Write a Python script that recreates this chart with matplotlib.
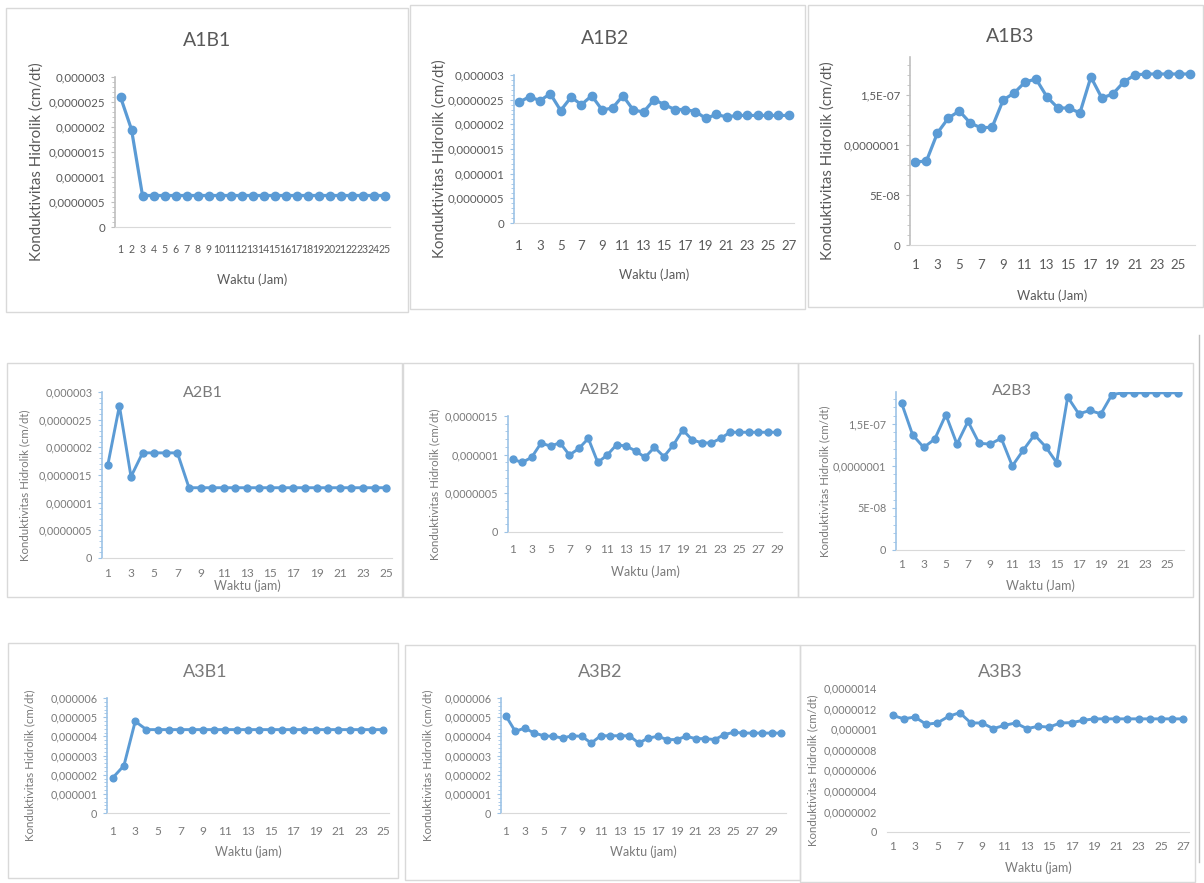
import matplotlib
matplotlib.use("Agg")
import matplotlib.pyplot as plt
from matplotlib.lines import Line2D
from matplotlib.patches import Rectangle
from matplotlib.ticker import AutoMinorLocator

plt.rcParams["font.family"] = ["Lato", "DejaVu Sans"]

W, H = 1204, 883

# hydraulic conductivity (cm/dt) per hour of measurement
a1b1 = [2.60e-6, 1.95e-6, 0.63e-6, 0.63e-6, 0.63e-6, 0.63e-6, 0.63e-6, 0.63e-6,
        0.63e-6, 0.63e-6, 0.63e-6, 0.63e-6, 0.63e-6, 0.63e-6, 0.63e-6, 0.63e-6,
        0.63e-6, 0.63e-6, 0.63e-6, 0.63e-6, 0.63e-6, 0.63e-6, 0.63e-6, 0.63e-6,
        0.63e-6]
a1b2 = [2.45e-6, 2.56e-6, 2.48e-6, 2.62e-6, 2.28e-6, 2.55e-6, 2.40e-6, 2.58e-6,
        2.29e-6, 2.33e-6, 2.58e-6, 2.29e-6, 2.25e-6, 2.50e-6, 2.40e-6, 2.30e-6,
        2.30e-6, 2.26e-6, 2.12e-6, 2.20e-6, 2.15e-6, 2.18e-6, 2.18e-6, 2.18e-6,
        2.18e-6, 2.18e-6, 2.18e-6]
a1b3 = [0.83e-7, 0.84e-7, 1.12e-7, 1.27e-7, 1.34e-7, 1.22e-7, 1.17e-7, 1.18e-7,
        1.45e-7, 1.52e-7, 1.63e-7, 1.66e-7, 1.48e-7, 1.37e-7, 1.37e-7, 1.32e-7,
        1.68e-7, 1.47e-7, 1.51e-7, 1.63e-7, 1.70e-7, 1.71e-7, 1.71e-7, 1.71e-7,
        1.71e-7, 1.71e-7]
a2b1 = [1.68e-6, 2.75e-6, 1.47e-6, 1.90e-6, 1.90e-6, 1.90e-6, 1.90e-6, 1.27e-6,
        1.27e-6, 1.27e-6, 1.27e-6, 1.27e-6, 1.27e-6, 1.27e-6, 1.27e-6, 1.27e-6,
        1.27e-6, 1.27e-6, 1.27e-6, 1.27e-6, 1.27e-6, 1.27e-6, 1.27e-6, 1.27e-6,
        1.27e-6]
a2b2 = [0.94e-6, 0.90e-6, 0.965e-6, 1.15e-6, 1.11e-6, 1.155e-6, 0.995e-6, 1.08e-6,
        1.21e-6, 0.90e-6, 0.995e-6, 1.13e-6, 1.11e-6, 1.05e-6, 0.965e-6, 1.095e-6,
        0.975e-6, 1.125e-6, 1.32e-6, 1.19e-6, 1.155e-6, 1.15e-6, 1.21e-6, 1.29e-6,
        1.29e-6, 1.29e-6, 1.29e-6, 1.29e-6, 1.29e-6]
a2b3 = [1.75e-7, 1.37e-7, 1.22e-7, 1.32e-7, 1.61e-7, 1.26e-7, 1.53e-7, 1.27e-7,
        1.26e-7, 1.33e-7, 1.00e-7, 1.19e-7, 1.37e-7, 1.23e-7, 1.04e-7, 1.82e-7,
        1.62e-7, 1.66e-7, 1.62e-7, 1.85e-7, 1.87e-7, 1.87e-7, 1.87e-7, 1.87e-7,
        1.87e-7, 1.87e-7]
a3b1 = [1.83e-6, 2.47e-6, 4.78e-6, 4.35e-6, 4.35e-6, 4.35e-6, 4.35e-6, 4.35e-6,
        4.35e-6, 4.35e-6, 4.35e-6, 4.35e-6, 4.35e-6, 4.35e-6, 4.35e-6, 4.35e-6,
        4.35e-6, 4.35e-6, 4.35e-6, 4.35e-6, 4.35e-6, 4.35e-6, 4.35e-6, 4.35e-6,
        4.35e-6]
a3b2 = [5.08e-6, 4.26e-6, 4.43e-6, 4.17e-6, 4.03e-6, 4.00e-6, 3.91e-6, 4.03e-6,
        4.00e-6, 3.65e-6, 4.03e-6, 4.03e-6, 4.03e-6, 4.03e-6, 3.65e-6, 3.91e-6,
        4.00e-6, 3.83e-6, 3.83e-6, 4.00e-6, 3.88e-6, 3.88e-6, 3.83e-6, 4.09e-6,
        4.21e-6, 4.17e-6, 4.17e-6, 4.17e-6, 4.17e-6, 4.17e-6]
a3b3 = [1.134e-6, 1.10e-6, 1.118e-6, 1.047e-6, 1.06e-6, 1.124e-6, 1.16e-6, 1.06e-6,
        1.06e-6, 1.005e-6, 1.037e-6, 1.06e-6, 1.005e-6, 1.027e-6, 1.02e-6, 1.06e-6,
        1.063e-6, 1.085e-6, 1.10e-6, 1.10e-6, 1.10e-6, 1.10e-6, 1.10e-6, 1.10e-6,
        1.10e-6, 1.10e-6, 1.10e-6]

# y tick values and their labels
ticks_3e6 = [0, 0.5e-6, 1e-6, 1.5e-6, 2e-6, 2.5e-6, 3e-6]
labels_3e6 = ["0", "0,0000005", "0,000001", "0,0000015", "0,000002", "0,0000025", "0,000003"]
ticks_e7 = [0, 5e-8, 1e-7, 1.5e-7]
labels_e7 = ["0", "5E-08", "0,0000001", "1,5E-07"]
ticks_15e7 = [0, 0.5e-6, 1e-6, 1.5e-6]
labels_15e7 = ["0", "0,0000005", "0,000001", "0,0000015"]
ticks_6e6 = [0, 1e-6, 2e-6, 3e-6, 4e-6, 5e-6, 6e-6]
labels_6e6 = ["0", "0,000001", "0,000002", "0,000003", "0,000004", "0,000005", "0,000006"]
ticks_14e7 = [0, 2e-7, 4e-7, 6e-7, 8e-7, 1e-6, 1.2e-6, 1.4e-6]
labels_14e7 = ["0", "0,0000002", "0,0000004", "0,0000006", "0,0000008", "0,000001",
               "0,0000012", "0,0000014"]

BLUE = "#5B9BD5"

# layout in pixels: frame box, plot area (left, top, right, bottom), text anchors
panels = [
    dict(title="A1B1", data=a1b1, ticks=ticks_3e6, labels=labels_3e6, ymax=3e-6, step=1,
         box=(6, 8, 408, 312), plot=(115, 77, 390, 227), title_xy=(207, 40),
         xlab="Waktu (Jam)", xlab_y=280, ylab_x=37, xpad=17, row=0, ycol="#BFBFBF",
         xtick_size=7.6),
    dict(title="A1B2", data=a1b2, ticks=ticks_3e6, labels=labels_3e6, ymax=3e-6, step=2,
         box=(410, 5, 805, 309), plot=(514, 75, 794, 223), title_xy=(605, 38),
         xlab="Waktu (Jam)", xlab_y=275, ylab_x=440, xpad=17, row=0, ycol="#9DC3E6"),
    dict(title="A1B3", data=a1b3, ticks=ticks_e7, labels=labels_e7, ymax=1.88e-7, step=2,
         box=(808, 5, 1203, 307), plot=(910, 57, 1195, 245), title_xy=(1010, 37),
         xlab="Waktu (Jam)", xlab_y=296, ylab_x=828, xpad=14, row=0, ycol="#BFBFBF"),
    dict(title="A2B1", data=a2b1, ticks=ticks_3e6, labels=labels_3e6, ymax=3e-6, step=2,
         box=(7, 363, 402, 597), plot=(102, 392, 392, 558), title_xy=(203, 393),
         xlab="Waktu (jam)", xlab_y=586, ylab_x=25, xpad=10, row=1, ycol="#9DC3E6"),
    dict(title="A2B2", data=a2b2, ticks=ticks_15e7, labels=labels_15e7, ymax=1.5e-6, step=2,
         box=(403, 363, 798, 597), plot=(508, 416, 782, 532), title_xy=(600, 390),
         xlab="Waktu (Jam)", xlab_y=572, ylab_x=435, xpad=12, row=1, ycol="#9DC3E6"),
    dict(title="A2B3", data=a2b3, ticks=ticks_e7, labels=labels_e7, ymax=1.88e-7, step=2,
         box=(798, 363, 1193, 597), plot=(896, 392, 1184, 550), title_xy=(1012, 391),
         xlab="Waktu (Jam)", xlab_y=586, ylab_x=825, xpad=9, row=1, ycol="#9DC3E6"),
    dict(title="A3B1", data=a3b1, ticks=ticks_6e6, labels=labels_6e6, ymax=6e-6, step=2,
         box=(8, 643, 398, 878), plot=(107, 698, 389, 813), title_xy=(205, 672),
         xlab="Waktu (jam)", xlab_y=852, ylab_x=30, xpad=13, row=2, ycol="#9DC3E6"),
    dict(title="A3B2", data=a3b2, ticks=ticks_6e6, labels=labels_6e6, ymax=6e-6, step=2,
         box=(405, 645, 800, 880), plot=(501, 698, 786, 813), title_xy=(600, 672),
         xlab="Waktu (jam)", xlab_y=852, ylab_x=428, xpad=13, row=2, ycol="#9DC3E6"),
    dict(title="A3B3", data=a3b3, ticks=ticks_14e7, labels=labels_14e7, ymax=1.4e-6, step=2,
         box=(800, 645, 1195, 882), plot=(887, 688, 1189, 832), title_xy=(1000, 672),
         xlab="Waktu (jam)", xlab_y=868, ylab_x=813, xpad=9, row=2, ycol=None),
]

# font sizes per row: title, y ticks, x ticks, x label, y label
row_fonts = [(14, 8.3, 9.5, 9.2, 10.8), (11.5, 7.8, 8.6, 9, 8.3), (13, 7.8, 8.6, 9, 8.3)]
row_text = ["#595959", "#7A7A7A", "#7A7A7A"]
row_marker = [(6.0, 2.3), (5.0, 2.1), (4.8, 2.1)]

fig = plt.figure(figsize=(W / 100, H / 100), dpi=100)
fig.patch.set_facecolor("white")

for p in panels:
    tsize, ysz, xsz, xsize, ysize = row_fonts[p["row"]]
    xsz = p.get("xtick_size", xsz)
    tcol = row_text[p["row"]]
    msize, lw = row_marker[p["row"]]

    bx0, by0, bx1, by1 = p["box"]
    fig.add_artist(Rectangle((bx0 / W, 1 - by1 / H), (bx1 - bx0) / W, (by1 - by0) / H,
                             transform=fig.transFigure, fill=False,
                             edgecolor="#D9D9D9", lw=1))

    x0, y0, x1, y1 = p["plot"]
    ax = fig.add_axes([x0 / W, 1 - y1 / H, (x1 - x0) / W, (y1 - y0) / H])
    n = len(p["data"])
    hours = list(range(1, n + 1))
    ax.plot(hours, p["data"], color=BLUE, lw=lw, marker="o", ms=msize,
            markerfacecolor=BLUE, markeredgecolor=BLUE, solid_joinstyle="round")

    ax.set_xlim(0.5, n + 0.5)
    ax.set_ylim(0, p["ymax"])
    ax.set_xticks(hours[::p["step"]])
    ax.set_xticklabels([str(h) for h in hours[::p["step"]]])
    ax.set_yticks(p["ticks"])
    ax.set_yticklabels(p["labels"])

    for side in ("top", "right"):
        ax.spines[side].set_visible(False)
    ax.spines["bottom"].set_color("#D9D9D9")
    ax.tick_params(axis="x", length=0, pad=p["xpad"] * 0.72, labelsize=xsz,
                   labelcolor=tcol)
    if p["ycol"] is None:
        ax.spines["left"].set_visible(False)
        ax.tick_params(axis="y", length=0, pad=7, labelsize=ysz, labelcolor=tcol)
    else:
        ax.spines["left"].set_color(p["ycol"])
        ax.spines["left"].set_linewidth(1.2)
        ax.yaxis.set_minor_locator(AutoMinorLocator(5))
        ax.tick_params(axis="y", which="major", length=3, color=p["ycol"], pad=4,
                       labelsize=ysz, labelcolor=tcol)
        ax.tick_params(axis="y", which="minor", length=2.5, color=p["ycol"])
    ax.set_facecolor("none")

    fig.text(p["title_xy"][0] / W, 1 - p["title_xy"][1] / H, p["title"],
             ha="center", va="center", fontsize=tsize, color=tcol)
    fig.text(((x0 + x1) / 2) / W, 1 - p["xlab_y"] / H, p["xlab"],
             ha="center", va="center", fontsize=xsize, color=tcol)
    fig.text(p["ylab_x"] / W, 1 - ((y0 + y1) / 2 + 10) / H,
             "Konduktivitas Hidrolik (cm/dt)", rotation=90,
             ha="center", va="center", fontsize=ysize, color=tcol)

# separator on the right edge of the lower rows
fig.add_artist(Line2D([1199 / W, 1199 / W], [1 - 335 / H, 1 - 862 / H],
                      transform=fig.transFigure, color="#BFBFBF", lw=1))

fig.savefig("out.png", dpi=100, facecolor="white")
